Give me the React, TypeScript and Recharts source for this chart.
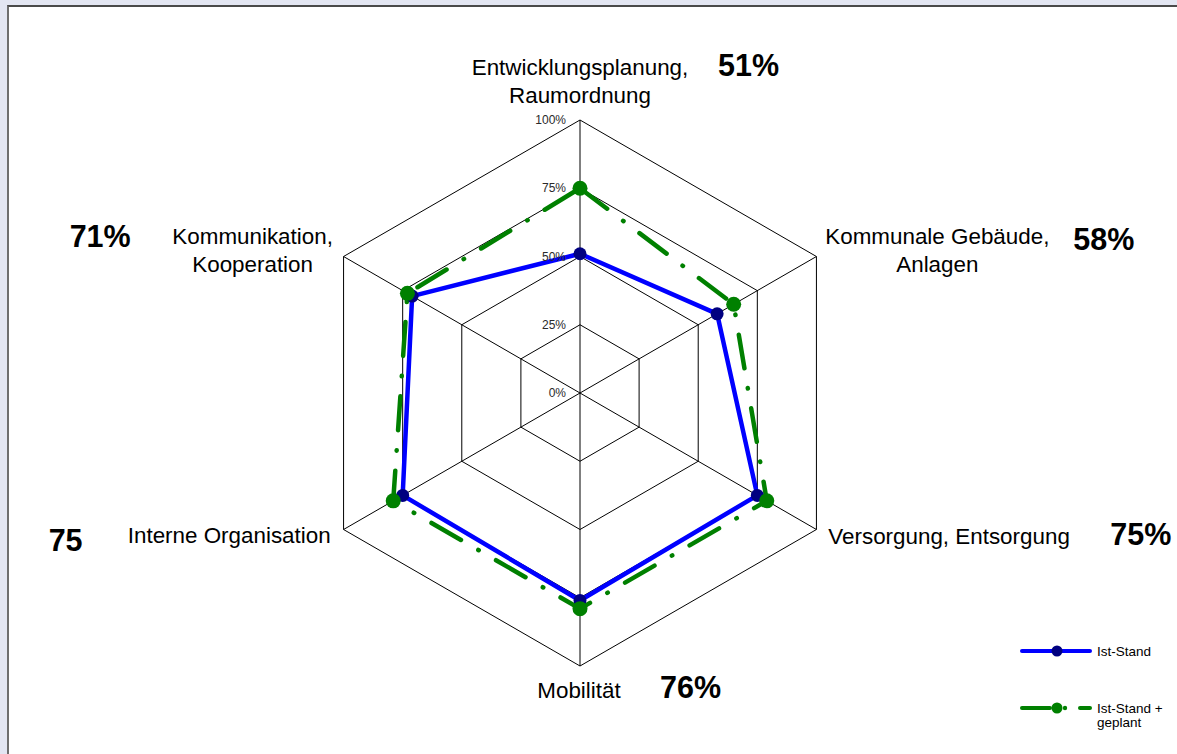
import { RadarChart, Radar, PolarGrid, PolarAngleAxis, PolarRadiusAxis, Legend } from 'recharts';

const FONT = '"Liberation Sans", Arial, sans-serif';

const categories = [
  'Entwicklungsplanung, Raumordnung',
  'Kommunale Gebäude, Anlagen',
  'Versorgung, Entsorgung',
  'Mobilität',
  'Interne Organisation',
  'Kommunikation, Kooperation',
];
const categoryLines = [
  ['Entwicklungsplanung,', 'Raumordnung'],
  ['Kommunale Gebäude,', 'Anlagen'],
  ['Versorgung, Entsorgung'],
  ['Mobilität'],
  ['Interne Organisation'],
  ['Kommunikation,', 'Kooperation'],
];
const istStand = [0.51, 0.58, 0.75, 0.76, 0.75, 0.71];
const istGeplant = [0.75, 0.65, 0.79, 0.79, 0.79, 0.73];
const percentLabels = ['51%', '58%', '75%', '76%', '75', '71%'];
const radiusTicks = [0, 0.25, 0.5, 0.75, 1];

const data = categories.map((c, i) => ({
  name: c,
  ist: istStand[i],
  geplant: istGeplant[i],
}));

// label offsets relative to the tick anchor (vertex + 8px)
const labelLayout = [
  { anchor: 'middle', dx: 0, dy: [-37, -9], pdx: 138, pdy: -36 },
  { anchor: 'middle', dx: 114, dy: [-9, 19], pdx: 250, pdy: -3 },
  { anchor: 'start', dx: 5, dy: [10], pdx: 287, pdy: 11 },
  { anchor: 'middle', dx: -1, dy: [24], pdx: 80, pdy: 24 },
  { anchor: 'end', dx: -6, dy: [9], pdx: -288, pdy: 17 },
  { anchor: 'middle', dx: -84, dy: [-9, 19], pdx: -267, pdy: -6 },
];

function AngleTick(props: any) {
  const { x, y } = props;
  const i = props.index ?? props.payload?.index ?? 0;
  const l = labelLayout[i];
  return (
    <g>
      {categoryLines[i].map((line, k) => (
        <text key={k} x={x + l.dx} y={y + l.dy[k]} textAnchor={l.anchor}
          fontSize={22.4} fontFamily={FONT} fill="#000">
          {line}
        </text>
      ))}
      <text x={x + l.pdx} y={y + l.pdy} textAnchor="start" fontSize={30.5}
        fontWeight="bold" fontFamily={FONT} fill="#000">
        {percentLabels[i]}
      </text>
    </g>
  );
}

function RadiusTick(props: any) {
  const { x, y, payload } = props;
  return (
    <g>
      <text x={x - 14} y={y} textAnchor="end" dominantBaseline="central"
        fontSize={12} fontFamily={FONT} fill="#2a2a2a" stroke="none">
        {Math.round(payload.value * 100)}%
      </text>
    </g>
  );
}

function renderLegend() {
  return (
    <svg width={160} height={110} style={{ overflow: 'visible' }}>
      <line x1={7} y1={16} x2={75} y2={16} stroke="#0000ff" strokeWidth={4} strokeLinecap="round" />
      <circle cx={42} cy={16} r={5.5} fill="#000080" />
      <text x={82} y={21} fontSize={13.5} fontFamily={FONT} fill="#000">Ist-Stand</text>
      <line x1={7} y1={73} x2={35} y2={73} stroke="#008000" strokeWidth={4} strokeLinecap="round" />
      <circle cx={42} cy={73} r={5.5} fill="#008000" />
      <circle cx={50} cy={73} r={2.2} fill="#008000" />
      <line x1={65} y1={73} x2={75} y2={73} stroke="#008000" strokeWidth={4} strokeLinecap="round" />
      <text x={82} y={78} fontSize={13.5} fontFamily={FONT} fill="#000">Ist-Stand +</text>
      <text x={82} y={92} fontSize={13.5} fontFamily={FONT} fill="#000">geplant</text>
    </svg>
  );
}

export default function App() {
  return (
    <div style={{ position: 'absolute', left: 0, top: 0, width: 1177, height: 754, background: '#e3e6f2', overflow: 'hidden' }}>
      <div style={{ position: 'absolute', left: 7, top: 5, right: 0, bottom: 0, background: '#fff', borderLeft: '2px solid #6e6e6e', borderTop: '2px solid #4a4a4a' }} />
      <div style={{ position: 'absolute', left: 0, top: 0 }}>
        <RadarChart width={1177} height={754} data={data} cx={580} cy={393} outerRadius={273}
          margin={{ top: 0, right: 0, bottom: 0, left: 0 }}>
          <PolarGrid gridType="polygon" stroke="#000" strokeWidth={1} />
          <PolarAngleAxis dataKey="name" tick={AngleTick} tickLine={false} axisLine={false} />
          <PolarRadiusAxis angle={90} domain={[0, 1]} ticks={radiusTicks as any} tick={RadiusTick}
            axisLine={false} tickLine={false} />
          <Radar name="Ist-Stand" dataKey="ist" stroke="#0000ff" strokeWidth={4.5} fill="none" fillOpacity={0}
            strokeLinejoin="round"
            dot={{ r: 6.5, fill: '#000080', stroke: 'none', fillOpacity: 1 }}
            isAnimationActive={false} />
          <Radar name="Ist-Stand + geplant" dataKey="geplant" stroke="#008000" strokeWidth={4.5} fill="none" fillOpacity={0}
            strokeDasharray="34 20 0.5 20" strokeLinecap="round"
            dot={{ r: 7.5, fill: '#008000', stroke: 'none', fillOpacity: 1, strokeDasharray: 'none' }}
            isAnimationActive={false} />
          <Legend content={renderLegend} wrapperStyle={{ position: 'absolute', left: 1015, top: 635, width: 160 }} />
        </RadarChart>
      </div>
    </div>
  );
}
